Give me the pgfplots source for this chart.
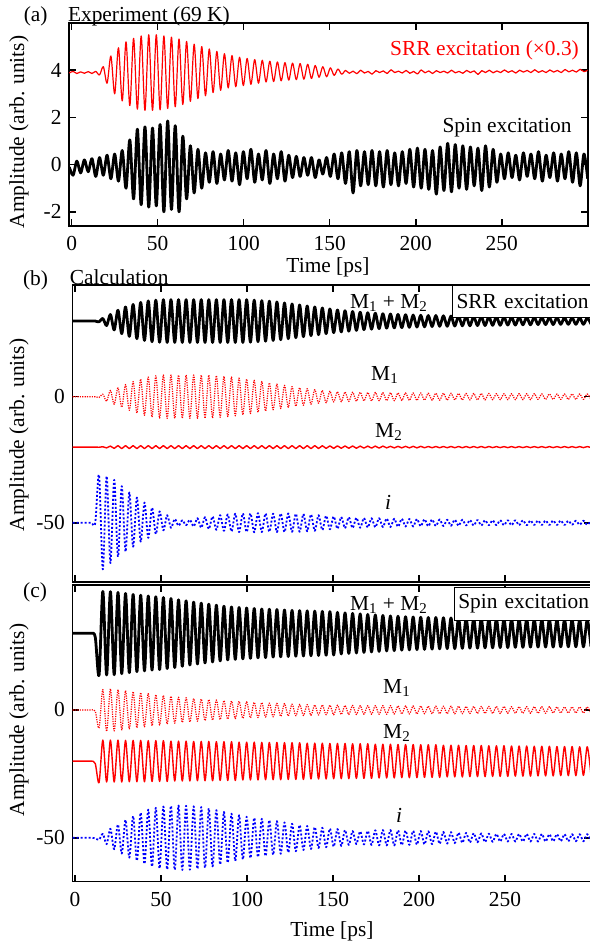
\documentclass[border=0pt]{standalone}
\usepackage{fontspec}
\setmainfont{Liberation Serif}
\usepackage{pgfplots}
\usepackage{pgfplotstable}
\pgfplotsset{compat=1.18}

% t = time (ps); a = experiment, b = calc SRR exc., c = calc spin exc.
\pgfplotstableread{
t aR aB bS bM1 bM2 bI cS cM1 cM2 cI
-1.4 3.88 -0.1 30 0 -20 -50 30 0 -20 -50
0.8 3.95 -0.45 30 0 -20 -50 30 0 -20 -50
3.0 3.86 0.15 30 0 -20 -50 30 0 -20 -50
5.2 3.93 -0.35 30 0 -20 -50 30 0 -20 -50
7.4 3.87 0.2 30 0 -20 -50 30 0 -20 -50
9.6 3.94 -0.3 30 0 -20 -50 30 0 -20 -50
11.8 3.86 0.25 30 0 -20 -50 28.5 -0.5 -21 -50.2
14.0 3.95 -0.5 29.7 -0.3 -20.05 -31 13.6 -7 -28.4 -50.8
16.2 3.80 0.3 31.0 1.0 -19.85 -68.5 46.4 8.0 -11.8 -48.5
18.4 4.15 -0.45 28.2 -1.8 -20.3 -31.5 13.7 -8.4 -28.2 -52.5
20.6 3.45 0.4 32.6 2.5 -19.6 -66 46.3 8.3 -11.8 -46.5
22.8 4.6 -0.6 26.5 -3.0 -20.5 -33 13.8 -8.2 -28.2 -54.5
25.0 3.0 0.45 34.3 3.5 -19.4 -63.5 46.0 8.0 -11.8 -44.8
27.2 4.95 -0.7 25.0 -4.2 -20.6 -35.5 14.2 -7.8 -28.2 -56.2
29.4 2.7 0.6 35.6 4.8 -19.4 -61.5 45.6 7.6 -11.9 -43
31.6 5.2 -1.0 23.9 -5.4 -20.6 -38 14.6 -7.4 -28.1 -57.8
33.8 2.5 1.05 36.6 6.0 -19.4 -59.5 45.2 7.2 -11.9 -41.5
36.0 5.35 -1.45 23.0 -6.5 -20.6 -40 15.0 -7.0 -28.1 -59
38.2 2.35 1.5 37.4 7.0 -19.4 -57.5 44.9 6.8 -11.9 -40.2
40.4 5.45 -1.7 22.3 -7.4 -20.6 -42 15.3 -6.6 -28.1 -60.3
42.6 2.3 1.6 38.0 7.8 -19.4 -56 44.6 6.4 -12.0 -39
44.8 5.5 -1.8 21.8 -8.1 -20.6 -44 15.6 -6.2 -28.0 -61.3
47.0 2.3 1.55 38.3 8.3 -19.4 -54.5 44.3 6.0 -12.0 -38.3
49.2 5.5 -1.75 21.6 -8.5 -20.6 -45.5 15.8 -5.9 -28.0 -62
51.4 2.32 1.7 38.5 8.6 -19.4 -53 44.0 5.7 -12.0 -37.8
53.6 5.45 -2.0 21.5 -8.6 -20.6 -47 16.2 -5.5 -28.0 -62.4
55.8 2.38 1.85 38.5 8.6 -19.4 -52 43.6 5.4 -12.2 -37.5
58.0 5.4 -1.9 21.5 -8.6 -20.6 -48.5 16.6 -5.2 -27.8 -62.6
60.2 2.45 1.65 38.5 8.6 -19.4 -51.2 43.1 5.0 -12.2 -37.4
62.4 5.32 -2.0 21.5 -8.6 -20.6 -49 17.1 -4.9 -27.8 -62.6
64.6 2.55 1.2 38.5 8.6 -19.4 -51 42.7 4.8 -12.2 -37.5
66.8 5.22 -1.45 21.5 -8.6 -20.6 -48.8 17.6 -4.7 -27.8 -62.5
69.0 2.68 0.8 38.5 8.6 -19.4 -51.5 42.2 4.5 -12.3 -37.7
71.2 5.1 -1.2 21.5 -8.6 -20.6 -48.2 18.0 -4.4 -27.7 -62.2
73.4 2.8 0.65 38.5 8.6 -19.4 -52 41.8 4.3 -12.3 -38
75.6 5.0 -1.0 21.5 -8.6 -20.6 -47.8 18.4 -4.2 -27.7 -61.8
77.8 2.92 0.5 38.5 8.6 -19.4 -52.5 41.4 4.1 -12.3 -38.5
80.0 4.9 -0.75 21.5 -8.5 -20.6 -47.5 18.8 -4.0 -27.7 -61.2
82.2 3.05 0.55 38.5 8.4 -19.4 -52.8 41.0 3.9 -12.4 -39.2
84.4 4.8 -0.8 21.5 -8.2 -20.6 -47 19.2 -3.8 -27.6 -60.5
86.6 3.15 0.45 38.5 8.1 -19.4 -53.2 40.6 3.7 -12.4 -39.9
88.8 4.7 -0.65 21.5 -7.9 -20.6 -46.7 19.6 -3.6 -27.6 -59.8
91.0 3.25 0.6 38.5 7.8 -19.4 -53.5 40.3 3.5 -12.4 -40.6
93.2 4.62 -0.7 21.5 -7.6 -20.6 -46.4 19.8 -3.4 -27.6 -59.1
95.4 3.3 0.5 38.5 7.4 -19.4 -53.7 40.1 3.4 -12.6 -41.2
97.6 4.55 -0.85 21.5 -7.2 -20.6 -46.3 20.0 -3.3 -27.4 -58.5
99.8 3.35 0.55 38.5 7.0 -19.4 -53.7 39.9 3.2 -12.6 -41.8
102.0 4.5 -0.6 21.6 -6.7 -20.6 -46.3 20.2 -3.1 -27.4 -58
104.2 3.4 0.65 38.3 6.5 -19.4 -53.8 39.7 3.0 -12.6 -42.2
106.4 4.45 -0.75 21.8 -6.2 -20.6 -46.2 20.4 -3.0 -27.4 -57.6
108.6 3.45 0.45 38.1 6.0 -19.4 -53.7 39.5 2.9 -12.7 -42.6
110.8 4.42 -0.65 22.0 -5.7 -20.6 -46.3 20.5 -2.8 -27.3 -57.2
113.0 3.5 0.6 37.9 5.5 -19.4 -53.6 39.4 2.7 -12.7 -43.1
115.2 4.38 -0.8 22.3 -5.2 -20.6 -46.4 20.7 -2.7 -27.3 -56.7
117.4 3.52 0.45 37.6 5.0 -19.4 -53.7 39.3 2.6 -12.7 -43.5
119.6 4.35 -0.6 22.6 -4.7 -20.6 -46.3 20.8 -2.5 -27.3 -56.3
121.8 3.55 0.55 37.2 4.5 -19.4 -53.7 39.1 2.5 -12.8 -44
124.0 4.32 -0.7 23.0 -4.2 -20.6 -46.3 20.9 -2.4 -27.2 -55.8
126.2 3.58 0.4 36.8 4.0 -19.4 -53.6 39.0 2.3 -12.8 -44.5
128.4 4.3 -0.55 23.4 -3.8 -20.6 -46.4 21.0 -2.3 -27.2 -55.3
130.6 3.6 0.35 36.4 3.6 -19.4 -53.6 38.9 2.2 -12.8 -45
132.8 4.28 -0.5 23.8 -3.4 -20.6 -46.5 21.1 -2.2 -27.2 -54.8
135.0 3.62 0.3 36.0 3.2 -19.4 -53.4 38.8 2.1 -13.0 -45.4
137.2 4.25 -0.45 24.2 -3.0 -20.6 -46.7 21.2 -2.1 -27.0 -54.4
139.4 3.65 0.3 35.6 2.8 -19.4 -53.2 38.7 2.0 -13.0 -45.8
141.6 4.2 -0.55 24.6 -2.6 -20.55 -47 21.3 -2.0 -27.0 -54
143.8 3.7 0.2 35.2 2.5 -19.45 -52.9 38.6 2.0 -13.0 -46.1
146.0 4.15 -0.4 25.0 -2.4 -20.5 -47.2 21.4 -1.9 -27.0 -53.7
148.2 3.72 0.3 34.8 2.2 -19.5 -52.6 38.5 1.9 -13.1 -46.4
150.4 4.1 -0.5 25.4 -2.1 -20.5 -47.5 21.5 -1.9 -26.9 -53.5
152.6 3.78 0.45 34.4 2.0 -19.5 -52.4 38.2 1.9 -13.1 -46.6
154.8 4.05 -0.6 25.7 -2.0 -20.45 -47.7 21.9 -1.8 -26.9 -53.2
157.0 3.83 0.5 34.1 1.9 -19.55 -52.2 38.0 1.8 -13.1 -47
159.2 3.99 -0.8 26.0 -1.9 -20.45 -47.8 22.1 -1.8 -26.9 -52.8
161.4 3.87 0.55 33.8 1.8 -19.55 -52.1 37.8 1.8 -13.2 -47.4
163.6 3.96 -1.2 26.3 -1.8 -20.45 -48 22.3 -1.8 -26.8 -52.5
165.8 3.85 0.6 33.5 1.8 -19.6 -52 37.6 1.7 -13.2 -47.5
168.0 4.0 -0.9 26.6 -1.7 -20.4 -48.1 22.5 -1.7 -26.8 -52.6
170.2 3.88 0.55 33.3 1.7 -19.6 -51.9 37.4 1.7 -13.2 -47.3
172.4 3.95 -0.85 26.8 -1.7 -20.4 -48.2 22.7 -1.7 -26.8 -52.8
174.6 3.83 0.6 33.1 1.7 -19.6 -51.8 37.2 1.7 -13.4 -47.1
176.8 3.98 -0.9 27.0 -1.6 -20.4 -48.2 22.9 -1.7 -26.6 -53
179.0 3.9 0.55 32.9 1.6 -19.6 -51.7 37.0 1.7 -13.4 -47
181.2 3.97 -0.95 27.2 -1.6 -20.3 -48.3 23.1 -1.7 -26.6 -53
183.4 3.86 0.6 32.8 1.6 -19.7 -51.7 36.8 1.7 -13.4 -47
185.6 4.02 -0.85 27.3 -1.6 -20.3 -48.4 23.2 -1.6 -26.6 -53
187.8 3.9 0.5 32.6 1.5 -19.7 -51.6 36.7 1.6 -13.5 -47.1
190.0 3.96 -0.9 27.4 -1.5 -20.3 -48.4 23.4 -1.6 -26.5 -52.9
192.2 3.88 0.55 32.5 1.5 -19.7 -51.5 36.5 1.6 -13.5 -47.2
194.4 3.99 -0.8 27.5 -1.5 -20.3 -48.5 23.5 -1.6 -26.5 -52.8
196.6 3.87 0.65 32.4 1.5 -19.7 -51.5 36.4 1.6 -13.5 -47.3
198.8 3.95 -0.95 27.6 -1.5 -20.3 -48.5 23.6 -1.6 -26.5 -52.7
201.0 3.84 0.7 32.3 1.5 -19.7 -51.4 36.3 1.6 -13.6 -47.4
203.2 4.01 -1.0 27.7 -1.4 -20.25 -48.6 23.7 -1.5 -26.4 -52.6
205.4 3.89 0.65 32.2 1.4 -19.75 -51.4 36.2 1.5 -13.6 -47.5
207.6 3.97 -1.05 27.8 -1.4 -20.25 -48.7 23.8 -1.5 -26.4 -52.5
209.8 3.86 0.6 32.2 1.4 -19.75 -51.3 36.2 1.5 -13.6 -47.6
212.0 3.98 -1.25 27.9 -1.4 -20.25 -48.7 23.9 -1.5 -26.4 -52.4
214.2 3.9 0.75 32.1 1.4 -19.75 -51.3 36.1 1.5 -13.8 -47.7
216.4 3.96 -1.1 27.9 -1.4 -20.25 -48.8 24.0 -1.5 -26.2 -52.3
218.6 3.88 0.9 32.0 1.4 -19.75 -51.2 36.0 1.5 -13.8 -47.8
220.8 4.0 -1.15 28.0 -1.3 -20.25 -48.8 24.0 -1.5 -26.2 -52.1
223.0 3.89 0.85 32.0 1.3 -19.75 -51.2 35.9 1.5 -13.8 -48
225.2 3.95 -1.0 28.1 -1.3 -20.25 -48.8 24.1 -1.5 -26.2 -52
227.4 3.87 0.8 31.9 1.3 -19.75 -51.1 35.9 1.4 -13.9 -48.1
229.6 3.99 -1.05 28.1 -1.3 -20.25 -48.9 24.2 -1.4 -26.1 -51.9
231.8 3.9 0.75 31.8 1.3 -19.75 -51.1 35.8 1.4 -13.9 -48.2
234.0 3.97 -0.9 28.2 -1.3 -20.25 -48.9 24.2 -1.4 -26.1 -51.8
236.2 3.82 0.7 31.8 1.3 -19.75 -51.1 35.7 1.4 -13.9 -48.3
238.4 3.98 -1.1 28.2 -1.3 -20.25 -49.0 24.3 -1.4 -26.1 -51.7
240.6 3.9 0.8 31.7 1.3 -19.75 -51.0 35.7 1.4 -14.0 -48.4
242.8 4.0 -0.95 28.3 -1.2 -20.2 -49.0 24.3 -1.4 -26.0 -51.6
245.0 3.89 0.65 31.7 1.2 -19.8 -51.0 35.6 1.4 -14.0 -48.5
247.2 3.97 -0.75 28.3 -1.2 -20.2 -49.0 24.4 -1.4 -26.0 -51.5
249.4 3.9 0.45 31.6 1.2 -19.8 -51.0 35.6 1.4 -14.0 -48.5
251.6 4.01 -0.6 28.4 -1.2 -20.2 -49.0 24.4 -1.3 -26.0 -51.5
253.8 3.91 0.5 31.6 1.2 -19.8 -51.0 35.5 1.3 -14.1 -48.5
256.0 3.98 -0.55 28.4 -1.2 -20.2 -49.0 24.5 -1.3 -25.9 -51.5
258.2 3.88 0.4 31.5 1.2 -19.8 -51.0 35.5 1.3 -14.1 -48.5
260.4 4.0 -0.65 28.5 -1.2 -20.2 -49.0 24.5 -1.3 -25.9 -51.5
262.6 3.92 0.5 31.5 1.2 -19.8 -51.0 35.5 1.3 -14.1 -48.5
264.8 3.99 -0.5 28.5 -1.2 -20.2 -49.1 24.6 -1.3 -25.9 -51.5
267.0 3.9 0.45 31.5 1.2 -19.8 -50.9 35.4 1.3 -14.2 -48.5
269.2 4.02 -0.6 28.6 -1.1 -20.2 -49.1 24.6 -1.3 -25.8 -51.5
271.4 3.91 0.55 31.4 1.1 -19.8 -50.9 35.4 1.3 -14.2 -48.5
273.6 3.98 -0.7 28.6 -1.1 -20.2 -49.1 24.6 -1.3 -25.8 -51.5
275.8 3.9 0.4 31.4 1.1 -19.8 -50.9 35.4 1.3 -14.2 -48.6
278.0 4.01 -0.55 28.6 -1.1 -20.2 -49.1 24.6 -1.2 -25.8 -51.4
280.2 3.92 0.5 31.4 1.1 -19.8 -50.9 35.4 1.2 -14.3 -48.6
282.4 3.99 -0.7 28.7 -1.1 -20.2 -49.1 24.7 -1.2 -25.7 -51.4
284.6 3.9 0.45 31.3 1.1 -19.8 -50.9 35.3 1.2 -14.3 -48.6
286.8 4.03 -0.6 28.7 -1.1 -20.2 -49.2 24.7 -1.2 -25.7 -51.4
289.0 3.93 0.55 31.3 1.1 -19.8 -50.8 35.3 1.2 -14.3 -48.6
291.2 4.0 -0.75 28.7 -1.1 -20.2 -49.2 24.7 -1.2 -25.7 -51.4
293.4 3.92 0.5 31.3 1.1 -19.8 -50.8 35.3 1.2 -14.4 -48.6
295.6 4.04 -0.9 28.7 -1.1 -20.2 -49.2 24.7 -1.2 -25.6 -51.4
297.8 3.94 0.45 31.2 1.1 -19.8 -50.8 35.3 1.2 -14.4 -48.6
300.0 4.0 -0.6 28.8 -1.1 -20.2 -49.2 24.7 -1.2 -25.6 -51.4
}\sig

\pgfplotsset{
  panel/.style={
    scale only axis, width=259.3pt,
    xmin=-1.5, xmax=300, xtick={0,50,...,250},
    tick align=inside, major tick length=3.5pt,
    axis line style={line width=0.8pt},
    every tick/.style={black, line width=0.8pt},
    /pgf/number format/assume math mode=true,
    xticklabel style={yshift=-1.5pt},
    anchor=south west,
  },
  every axis plot/.append style={smooth, tension=0.5, line join=round},
}

\begin{document}
\fontsize{10.7}{12.8}\selectfont
\begin{tikzpicture}
% (a) experiment
\begin{axis}[panel, at={(34.55pt,359.5pt)}, height=101.5pt,
    ymin=-2.6, ymax=6.0, ytick={-2,0,2,4}]
\addplot[red, line width=0.6pt] table[x=t, y=aR] {\sig};
\addplot[black, line width=1.4pt] table[x=t, y=aB] {\sig};
\end{axis}
% (b) calculation, SRR excitation
\begin{axis}[panel, at={(36.2pt,181.5pt)}, height=148.5pt,
    ymin=-73.5, ymax=44.3, ytick={-50,0}, xticklabels={}]
\addplot[black, line width=1.4pt] table[x=t, y=bS] {\sig};
\addplot[red, line width=0.6pt, dash pattern=on 0.6pt off 0.6pt] table[x=t, y=bM1] {\sig};
\addplot[red, line width=0.7pt] table[x=t, y=bM2] {\sig};
\addplot[blue, line width=0.9pt, dash pattern=on 1pt off 1pt] table[x=t, y=bI] {\sig};
\end{axis}
% (c) calculation, spin excitation
\begin{axis}[panel, at={(36.2pt,31.65pt)}, height=148.35pt,
    ymin=-67.2, ymax=48.9, ytick={-50,0}]
\addplot[black, line width=1.4pt] table[x=t, y=cS] {\sig};
\addplot[red, line width=0.6pt, dash pattern=on 0.6pt off 0.6pt] table[x=t, y=cM1] {\sig};
\addplot[red, line width=0.7pt] table[x=t, y=cM2] {\sig};
\addplot[blue, line width=0.9pt, dash pattern=on 1pt off 1pt] table[x=t, y=cI] {\sig};
\end{axis}

% panel letters and titles
\node at (17.85pt,464.5pt) {(a)};
\node[anchor=west, inner xsep=0pt] at (33.8pt,464.5pt) {Experiment (69 K)};
\node at (17.75pt,332.5pt) {(b)};
\node[anchor=west, inner xsep=0pt] at (34.75pt,334pt) {Calculation};
\node at (17.5pt,176.5pt) {(c)};
% axis titles
\node[rotate=90] at (9.5pt,406.5pt) {Amplitude (arb. units)};
\node[rotate=90] at (9.5pt,255pt) {Amplitude (arb. units)};
\node[rotate=90] at (9.5pt,112.5pt) {Amplitude (arb. units)};
\node at (164pt,339pt) {Time [ps]};
\node at (166pt,6.65pt) {Time [ps]};
% curve labels
\node[red] at (242.25pt,447.5pt) {SRR excitation (×0.3)};
\node at (253.5pt,408.5pt) {Spin excitation};
\node[draw, fill=white, line width=0.5pt, anchor=north west, minimum height=16pt,
      text width=76pt, align=left, inner xsep=2pt] at (226pt,330pt) {SRR excitation};
\node at (194.5pt,321pt) {M\textsubscript{1} + M\textsubscript{2}};
\node at (192.5pt,285pt) {M\textsubscript{1}};
\node at (194.5pt,256.5pt) {M\textsubscript{2}};
\node at (194pt,221.5pt) {\textit{i}};
\node[draw, fill=white, line width=0.5pt, anchor=north west, minimum height=15pt,
      text width=76pt, align=left, inner xsep=2pt] at (226.9pt,179.15pt) {Spin excitation};
\node at (194.5pt,170pt) {M\textsubscript{1} + M\textsubscript{2}};
\node at (198.5pt,128.5pt) {M\textsubscript{1}};
\node at (198.5pt,106pt) {M\textsubscript{2}};
\node at (199.5pt,65pt) {\textit{i}};

\pgfresetboundingbox
\path[use as bounding box] (0,0) rectangle (294.5pt,472.5pt);
\end{tikzpicture}
\end{document}
